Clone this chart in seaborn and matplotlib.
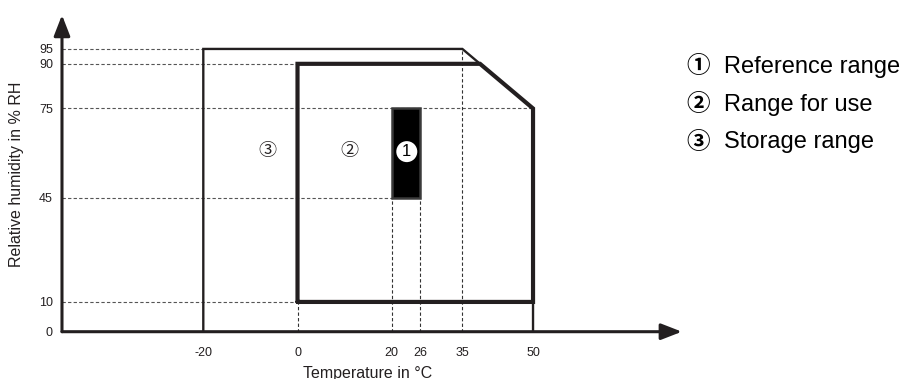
import matplotlib
matplotlib.use("Agg")
import matplotlib.pyplot as plt
import seaborn as sns
from matplotlib.patches import Rectangle

# storage range outline (temperature in °C, humidity in % RH)
storage_temp = [-20, -20, 35, 50, 50]
storage_rh = [0, 95, 95, 75, 0]

# range for use outline
use_temp = [0, 0, 38.75, 50, 50, 0]
use_rh = [10, 90, 90, 75, 10, 10]

# reference range box
ref_temp = [20, 26]
ref_rh = [45, 75]

x_ticks = [-20, 0, 20, 26, 35, 50]
y_ticks = [0, 10, 45, 75, 90, 95]

# dashed guides: horizontal ones run from the y axis to guide_h_end,
# vertical ones from the x axis up to guide_v_end
guide_h = [95, 90, 75, 45, 10]
guide_h_end = [-20, 0, 50, 20, 0]
guide_v = [0, 20, 26, 35]
guide_v_end = [10, 45, 45, 95]

legend_marks = ["①", "②", "③"]
legend_labels = ["Reference range", "Range for use", "Storage range"]

INK = "#231f20"

sns.set_theme(style="white")
plt.rcParams['font.family'] = ['Liberation Sans', 'Noto Sans CJK JP', 'DejaVu Sans']

fig = plt.figure(figsize=(9.01, 3.79), dpi=100)
ax = fig.add_axes([0.0688, 0.1248, 0.688, 0.8356])
XMIN, XMAX = -50, 81.6
ax.set_xlim(XMIN, XMAX)
ax.set_ylim(0, 106.4)
for s in ax.spines.values():
    s.set_visible(False)

# guides
for y, xe in zip(guide_h, guide_h_end):
    ax.plot([XMIN, xe], [y, y], color="#555555", lw=0.8, ls=(0, (3, 2)), zorder=1)
for x, ye in zip(guide_v, guide_v_end):
    ax.plot([x, x], [0, ye], color="#333333", lw=0.8, ls=(0, (3, 2)), zorder=1)

# outlines
sns.lineplot(x=storage_temp, y=storage_rh, sort=False, estimator=None,
             color=INK, lw=1.7, ax=ax, zorder=3, solid_joinstyle='miter')
sns.lineplot(x=use_temp, y=use_rh, sort=False, estimator=None,
             color=INK, lw=3.0, ax=ax, zorder=4, solid_joinstyle='miter')

# reference box
ax.add_patch(Rectangle((ref_temp[0], ref_rh[0]), ref_temp[1] - ref_temp[0],
                       ref_rh[1] - ref_rh[0], facecolor="black",
                       edgecolor="#3a3a3a", lw=1.8, zorder=5))
ax.text(23.2, 60.5, "1", ha="center", va="center", fontsize=12,
        color="black", zorder=6,
        bbox=dict(boxstyle="circle,pad=0.18", fc="white", ec="none"))

# region markers
ax.text(-6.5, 60.5, "③", ha="center", va="center", fontsize=13, color=INK)
ax.text(11, 60.5, "②", ha="center", va="center", fontsize=13, color=INK)

# axes with arrows
arrow = dict(arrowstyle="-|>,head_length=0.9,head_width=0.35", lw=2.2,
             color=INK, shrinkA=0, shrinkB=0, mutation_scale=14)
ax.annotate("", xy=(1, 0), xytext=(0, 0), xycoords="axes fraction", arrowprops=arrow)
ax.annotate("", xy=(0, 1), xytext=(0, 0), xycoords="axes fraction", arrowprops=arrow)

ax.set_xticks(x_ticks)
ax.set_xticklabels([str(v) for v in x_ticks])
ax.set_yticks(y_ticks)
ax.set_yticklabels([str(v) for v in y_ticks])
ax.tick_params(axis="x", length=0, pad=11, labelsize=9, colors=INK)
ax.tick_params(axis="y", length=0, pad=6.5, labelsize=9, colors=INK)

ax.set_xlabel("Temperature in °C", fontsize=11.5, color=INK)
ax.set_ylabel("Relative humidity in % RH", fontsize=11.5, color=INK)
ax.xaxis.set_label_coords(0.4927, -0.107)
ax.yaxis.set_label_coords(-0.062, 0.496)

for i, (mk, lab) in enumerate(zip(legend_marks, legend_labels)):
    yy = 1 - (66.5 + i * 38) / 379
    fig.text(686 / 901, yy, mk, fontsize=17, fontweight="bold", color="black",
             ha="left", va="center")
    fig.text(724 / 901, yy, lab, fontsize=17, color="black", ha="left", va="center")

fig.savefig("out.png", dpi=100, facecolor="white")
